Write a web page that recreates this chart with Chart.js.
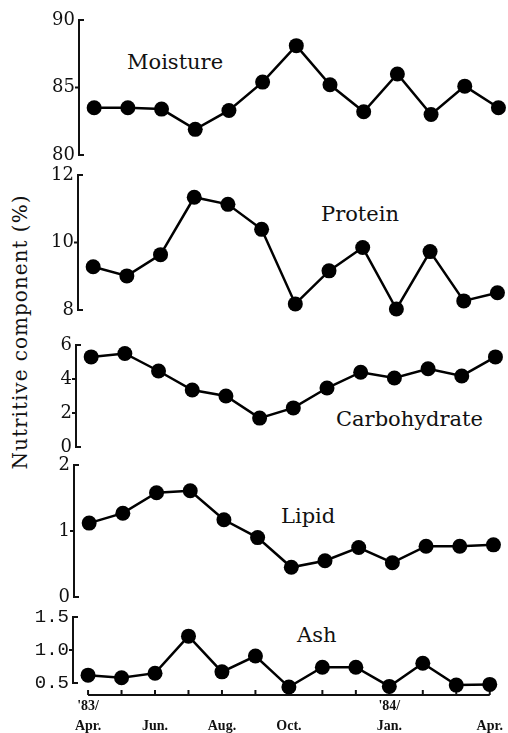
<!DOCTYPE html>
<html lang="en">
<head>
    <meta charset="UTF-8">
    <title>Nutritive component</title>
    <script src="https://cdn.jsdelivr.net/npm/chart.js"></script>
    <style>
        body {
            margin: 0;
            width: 508px;
            height: 733px;
            overflow: hidden;
            background: #fff;
            position: relative;
            font-family: "DejaVu Serif", serif;
        }
        canvas {
            position: absolute;
            top: 0;
        }
        .name {
            position: absolute;
            font-size: 21px;
            line-height: 21px;
            color: #111;
            white-space: nowrap;
        }
        #ytitle {
            position: absolute;
            left: 20px;
            top: 332px;
            transform: translate(-50%, -50%) rotate(-90deg);
            font-size: 20px;
            letter-spacing: 1px;
            white-space: nowrap;
            color: #111;
        }
    </style>
</head>
<body>

<div id="ytitle">Nutritive component (%)</div>
<div class="name" style="left:127px; top:52px;">Moisture</div>
<div class="name" style="left:321px; top:204px;">Protein</div>
<div class="name" style="left:336px; top:409px;">Carbohydrate</div>
<div class="name" style="left:281px; top:506px;">Lipid</div>
<div class="name" style="left:297px; top:625px;">Ash</div>

<canvas id="c0" width="508" height="733"></canvas>
<canvas id="c1" width="508" height="733"></canvas>
<canvas id="c2" width="508" height="733"></canvas>
<canvas id="c3" width="508" height="733"></canvas>
<canvas id="c4" width="508" height="733"></canvas>

<script>
    // monthly samples, Apr. '83 .. Apr. '84
    const months = ['Apr.', 'May', 'Jun.', 'Jul.', 'Aug.', 'Sep.', 'Oct.', 'Nov.', 'Dec.', 'Jan.', 'Feb.', 'Mar.', 'Apr.'];
    const monthTickPos = [0, 2, 4, 6, 9, 12];
    const yearTicks = ["'83/", '', '', '', "'84/", ''];

    const moisture = [83.5, 83.5, 83.4, 81.9, 83.3, 85.4, 88.1, 85.2, 83.2, 86.0, 83.0, 85.1, 83.5];
    const protein = [9.28, 9.01, 9.64, 11.34, 11.13, 10.39, 8.18, 9.16, 9.85, 8.03, 9.73, 8.27, 8.51];
    const carbohydrate = [5.3, 5.5, 4.47, 3.35, 3.0, 1.7, 2.3, 3.47, 4.4, 4.06, 4.6, 4.18, 5.3];
    const lipid = [1.12, 1.27, 1.58, 1.61, 1.17, 0.9, 0.45, 0.55, 0.75, 0.52, 0.77, 0.77, 0.79];
    const ash = [0.62, 0.58, 0.65, 1.21, 0.67, 0.91, 0.44, 0.74, 0.74, 0.45, 0.8, 0.47, 0.48];

    const moistureTicks = [80, 85, 90];
    const proteinTicks = [8, 10, 12];
    const carbohydrateTicks = [0, 2, 4, 6];
    const lipidTicks = [0, 1, 2];
    const ashTicks = [0.5, 1.0, 1.5];

    // bracket style y axis, and the short x axis under the last panel
    const bracketAxes = {
        id: 'bracketAxes',
        beforeDatasetsDraw(chart, args, opts) {
            const ctx = chart.ctx;
            const y = chart.scales.y;
            const left = chart.chartArea.left;
            const vals = y.ticks.map(t => t.value);
            const top = y.getPixelForValue(Math.max(...vals));
            const bot = y.getPixelForValue(Math.min(...vals));
            ctx.save();
            ctx.strokeStyle = '#111';
            ctx.lineWidth = 2;
            ctx.beginPath();
            ctx.moveTo(left + 5, top);
            ctx.lineTo(left, top);
            ctx.lineTo(left, bot);
            ctx.lineTo(left + 5, bot);
            vals.forEach(v => {
                const p = y.getPixelForValue(v);
                if (Math.abs(p - top) > 1 && Math.abs(p - bot) > 1) {
                    ctx.moveTo(left, p);
                    ctx.lineTo(left - 4, p);
                }
            });
            ctx.stroke();

            if (opts.xAxis) {
                const x = chart.scales.x;
                const yb = chart.chartArea.bottom;
                ctx.beginPath();
                ctx.moveTo(x.getPixelForValue(0), yb);
                ctx.lineTo(x.getPixelForValue(months.length - 1), yb);
                months.forEach((m, i) => {
                    const px = x.getPixelForValue(i);
                    ctx.moveTo(px, yb);
                    ctx.lineTo(px, yb - 5);
                });
                ctx.stroke();
            }
            ctx.restore();
        }
    };

    function makePanel(id, values, ticks, yMin, yMax, padTop, padBottom, shift, withX) {
        const canvas = document.getElementById(id);
        canvas.style.left = shift + 'px';
        const tickFont = ticks === ashTicks
            ? { family: 'Liberation Mono', size: 19 }
            : { family: 'DejaVu Serif', size: 18 };
        new Chart(canvas, {
            type: 'line',
            data: {
                datasets: [{
                    data: values.map((v, i) => ({ x: i, y: v })),
                    borderColor: '#000',
                    backgroundColor: '#000',
                    borderWidth: 2.5,
                    pointRadius: 7.5,
                    pointBorderWidth: 0,
                    tension: 0,
                    clip: false
                }]
            },
            options: {
                responsive: false,
                animation: false,
                layout: { padding: { top: padTop, bottom: padBottom, left: 0, right: 6 } },
                plugins: {
                    legend: { display: false },
                    tooltip: { enabled: false },
                    bracketAxes: { xAxis: withX }
                },
                scales: {
                    x: {
                        type: 'linear',
                        min: -0.45,
                        max: 12.15,
                        display: withX,
                        grid: { display: false, drawTicks: false },
                        border: { display: false },
                        afterBuildTicks: s => { s.ticks = monthTickPos.map(v => ({ value: v })); },
                        afterFit: s => { s.height = withX ? 38 : 0; },
                        ticks: {
                            autoSkip: false,
                            maxRotation: 0,
                            padding: 2,
                            color: '#111',
                            font: { family: 'Liberation Serif', size: 14, weight: 'bold', lineHeight: 1.4 },
                            callback: v => {
                                const k = monthTickPos.indexOf(v);
                                return k < 0 ? '' : [yearTicks[k], months[v]];
                            }
                        }
                    },
                    y: {
                        min: yMin,
                        max: yMax,
                        grid: { display: false, drawTicks: false },
                        border: { display: false },
                        afterBuildTicks: s => { s.ticks = ticks.map(v => ({ value: v })); },
                        afterFit: s => { s.width = 76; },
                        ticks: {
                            autoSkip: false,
                            padding: 4,
                            color: '#111',
                            font: tickFont,
                            callback: v => ticks === ashTicks ? v.toFixed(1) : v
                        }
                    }
                }
            },
            plugins: [bracketAxes]
        });
    }

    makePanel('c0', moisture, moistureTicks, 80, 90, 20, 733 - 155, 3, false);
    makePanel('c1', protein, proteinTicks, 8, 12, 175, 733 - 310, 2, false);
    makePanel('c2', carbohydrate, carbohydrateTicks, 0, 6, 345, 733 - 447, 0, false);
    makePanel('c3', lipid, lipidTicks, 0, 2, 465, 733 - 597, -2, false);
    makePanel('c4', ash, ashTicks, 0.32, 1.5, 617, 0, -3, true);
</script>

</body>
</html>
